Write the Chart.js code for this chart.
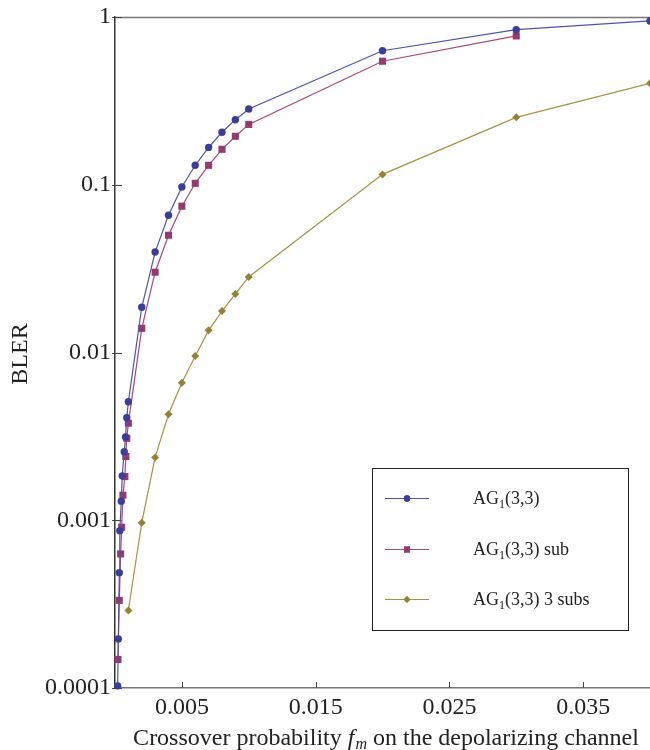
<!DOCTYPE html>
<html>
<head>
<meta charset="utf-8">
<script src="https://cdn.jsdelivr.net/npm/chart.js@4"></script>
<style>
  html, body { margin: 0; padding: 0; background: #fff; }
  #wrap { width: 650px; height: 750px; }
</style>
</head>
<body>
<div id="wrap"><canvas id="blerChart"></canvas></div>
<script>
// values
const xBlue = [0.0002, 0.00025, 0.00032, 0.00036, 0.00047, 0.00054, 0.00069, 0.00079, 0.00088, 0.001,
    0.002, 0.003, 0.004, 0.005, 0.006, 0.007, 0.008, 0.009, 0.01, 0.02, 0.03, 0.04];
const yBlue = [0.000103, 0.000196, 0.000487, 0.000867, 0.0013, 0.00184, 0.00256, 0.00314, 0.00408, 0.00509,
    0.0186, 0.0397, 0.0658, 0.097, 0.1307, 0.167, 0.2055, 0.2443, 0.283, 0.629, 0.84, 0.947];

const xPink = [0.00022, 0.00032, 0.00042, 0.0005, 0.00059, 0.00074, 0.00081, 0.00088, 0.001,
    0.002, 0.003, 0.004, 0.005, 0.006, 0.007, 0.008, 0.009, 0.01, 0.02, 0.03];
const yPink = [0.000148, 0.000333, 0.00063, 0.000908, 0.00141, 0.00182, 0.0024, 0.00308, 0.00379,
    0.01394, 0.0301, 0.05, 0.0745, 0.102, 0.1306, 0.1627, 0.1945, 0.229, 0.545, 0.771];

const xGold = [0.001, 0.002, 0.003, 0.004, 0.005, 0.006, 0.007, 0.008, 0.009, 0.01, 0.02, 0.03, 0.04];
const yGold = [0.00029, 0.000967, 0.00237, 0.00428, 0.0066, 0.00953, 0.01355, 0.01766, 0.02233, 0.0282, 0.1153, 0.2523, 0.4027];

const xTicks = [0.005, 0.015, 0.025, 0.035];
const yTicks = [0.0001, 0.001, 0.01, 0.1, 1];
const yTickLabels = ["0.0001", "0.001", "0.01", "0.1", "1"];

// legend names: "AG" + subscript "1" + rest
const seriesSub = ["1", "1", "1"];
const seriesRest = ["(3,3)", "(3,3) sub", "(3,3) 3 subs"];

const serif = "'Liberation Serif', 'Times New Roman', serif";
const textColor = "#222";

function pts(xs, ys) {
    return xs.map((v, i) => ({ x: v, y: ys[i] }));
}

const datasets = [
    {
        label: "AG1(3,3)",
        data: pts(xBlue, yBlue),
        borderColor: "#4f52aa",
        backgroundColor: "#3b3e98",
        pointBorderColor: "#3b3e98",
        pointStyle: "circle",
        pointRadius: 3.7,
    },
    {
        label: "AG1(3,3) sub",
        data: pts(xPink, yPink),
        borderColor: "#a8487c",
        backgroundColor: "#953a6a",
        pointBorderColor: "#953a6a",
        pointStyle: "rect",
        pointRadius: 5,
    },
    {
        label: "AG1(3,3) 3 subs",
        data: pts(xGold, yGold),
        borderColor: "#a39545",
        backgroundColor: "#938236",
        pointBorderColor: "#938236",
        pointStyle: "rectRot",
        pointRadius: 4,
    },
];
datasets.forEach((d) => {
    d.borderWidth = 1.2;
    d.pointBorderWidth = 0;
    d.pointHoverRadius = d.pointRadius;
    d.tension = 0;
    d.fill = false;
    d.clip = false;
});

const frame = {
    id: "frame",
    beforeDatasetsDraw(chart) {
        const { ctx, chartArea: a, scales } = chart;
        ctx.save();
        // top frame line
        ctx.strokeStyle = "#777";
        ctx.lineWidth = 1.5;
        ctx.beginPath();
        ctx.moveTo(a.left, a.top + 0.5);
        ctx.lineTo(chart.width, a.top + 0.5);
        ctx.stroke();
        // inward tick marks
        ctx.strokeStyle = "#444";
        ctx.lineWidth = 1;
        ctx.beginPath();
        yTicks.forEach((v) => {
            const py = Math.round(scales.y.getPixelForValue(v)) + 0.5;
            ctx.moveTo(a.left - 3, py);
            ctx.lineTo(a.left + 7, py);
        });
        xTicks.forEach((v) => {
            const px = Math.round(scales.x.getPixelForValue(v)) + 0.5;
            ctx.moveTo(px, a.bottom);
            ctx.lineTo(px, a.bottom - 6);
        });
        ctx.stroke();
        ctx.restore();
    },
    afterDraw(chart) {
        const { ctx } = chart;
        ctx.save();
        ctx.fillStyle = textColor;

        // y title
        ctx.font = "24px " + serif;
        ctx.textAlign = "center";
        ctx.textBaseline = "middle";
        ctx.translate(21, 354);
        ctx.rotate(-Math.PI / 2);
        ctx.fillText("BLER", 0, 0);
        ctx.setTransform(1, 0, 0, 1, 0, 0);

        // x title with italic f_m
        const big = "24px " + serif;
        const ital = "italic 24px " + serif;
        const sub = "italic 16px " + serif;
        const p1 = "Crossover probability ";
        const p3 = " on the depolarizing channel";
        ctx.textAlign = "left";
        ctx.textBaseline = "alphabetic";
        ctx.font = big;
        const w1 = ctx.measureText(p1).width, w3 = ctx.measureText(p3).width;
        ctx.font = ital;
        const wf = ctx.measureText("f").width + 1;
        ctx.font = sub;
        const wm = ctx.measureText("m").width;
        let x0 = 386 - (w1 + wf + wm + w3) / 2;
        const base = 745;
        ctx.font = big;
        ctx.fillText(p1, x0, base);
        x0 += w1;
        ctx.font = ital;
        ctx.fillText("f", x0, base);
        x0 += wf;
        ctx.font = sub;
        ctx.fillText("m", x0, base + 4);
        x0 += wm;
        ctx.font = big;
        ctx.fillText(p3, x0, base);

        // legend box
        const bx = 372, by = 468, bw = 256, bh = 162;
        ctx.fillStyle = "#fff";
        ctx.fillRect(bx, by, bw, bh);
        ctx.strokeStyle = "#222";
        ctx.lineWidth = 1;
        ctx.strokeRect(bx + 0.5, by + 0.5, bw, bh);
        const rows = [498, 549, 599];
        chart.data.datasets.forEach((d, i) => {
            const ry = rows[i];
            ctx.strokeStyle = d.borderColor;
            ctx.lineWidth = 1.2;
            ctx.beginPath();
            ctx.moveTo(385, ry + 0.5);
            ctx.lineTo(429, ry + 0.5);
            ctx.stroke();
            ctx.fillStyle = d.backgroundColor;
            Chart.helpers.drawPoint(ctx, {
                pointStyle: d.pointStyle,
                radius: d.pointRadius * 0.85,
                rotation: 0,
                borderWidth: 0,
            }, 407, ry + 0.5);
            ctx.fill();
            ctx.fillStyle = textColor;
            let tx = 473;
            const tb = ry + 6;
            ctx.font = "18px " + serif;
            ctx.fillText("AG", tx, tb);
            tx += ctx.measureText("AG").width;
            ctx.font = "12px " + serif;
            ctx.fillText(seriesSub[i], tx, tb + 4);
            tx += ctx.measureText(seriesSub[i]).width;
            ctx.font = "18px " + serif;
            ctx.fillText(seriesRest[i], tx, tb);
        });
        ctx.restore();
    },
};

new Chart(document.getElementById("blerChart"), {
    type: "line",
    data: { datasets: datasets },
    options: {
        responsive: true,
        maintainAspectRatio: false,
        animation: false,
        events: [],
        layout: { autoPadding: false, padding: { top: 17, right: 0, left: 0, bottom: 0 } },
        plugins: {
            legend: { display: false },
            tooltip: { enabled: false },
        },
        scales: {
            x: {
                type: "linear",
                min: 0,
                max: 0.04,
                afterFit: (s) => {
                    s.height = 62;
                    s.paddingLeft = 0;
                    s.paddingRight = 0;
                },
                afterBuildTicks: (s) => { s.ticks = xTicks.map((v) => ({ value: v })); },
                grid: { drawOnChartArea: false, drawTicks: false },
                border: { display: true, color: "#777", width: 1.5 },
                ticks: {
                    padding: 5,
                    color: textColor,
                    font: { family: serif, size: 24 },
                    maxRotation: 0,
                    callback: (v) => String(v),
                },
            },
            y: {
                type: "logarithmic",
                min: 0.0001,
                max: 1,
                afterFit: (s) => {
                    s.width = 115;
                    s.paddingTop = 0;
                    s.paddingBottom = 0;
                },
                afterBuildTicks: (s) => { s.ticks = yTicks.map((v) => ({ value: v })); },
                grid: { drawOnChartArea: false, drawTicks: false },
                border: { display: true, color: "#333", width: 1.5 },
                ticks: {
                    padding: 4,
                    color: textColor,
                    font: { family: serif, size: 24 },
                    callback: (v) => yTickLabels[yTicks.indexOf(v)],
                },
            },
        },
    },
    plugins: [frame],
});
</script>
</body>
</html>
